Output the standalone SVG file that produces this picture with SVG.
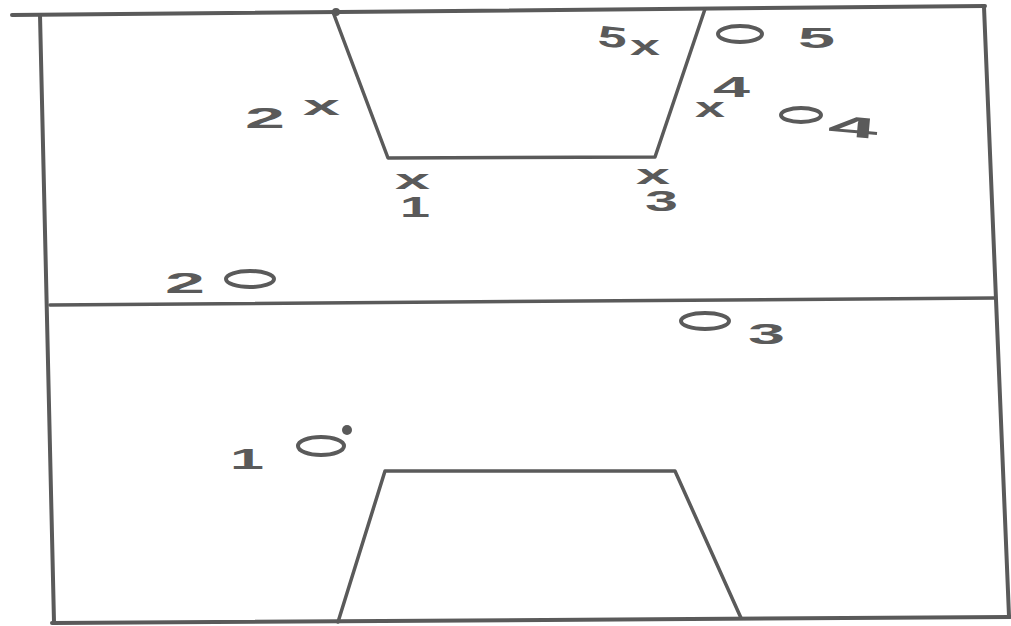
<svg xmlns="http://www.w3.org/2000/svg" width="1011" height="626" viewBox="0 0 1011 626">
<style>
.ln{stroke:#5a5a5a;fill:none;stroke-linecap:round;stroke-linejoin:round}
.b{stroke-width:4}
.k{stroke-width:3.5}
.o{stroke:#5a5a5a;fill:none;stroke-width:4}
.t{font-family:"Liberation Sans",Arial,sans-serif;font-size:29px;font-weight:bold;fill:#5a5a5a}
.x{font-family:"Liberation Sans",Arial,sans-serif;font-size:28px;font-weight:bold;fill:#5a5a5a}
</style>
<rect width="1011" height="626" fill="#ffffff"/>
<g id="court">
<line class="ln b" x1="12" y1="15" x2="985" y2="6"/>
<line class="ln b" x1="40" y1="15" x2="54" y2="622"/>
<line class="ln b" x1="984" y1="7" x2="1009" y2="616"/>
<line class="ln k" x1="50" y1="305" x2="995" y2="298"/>
<line class="ln b" x1="52" y1="623" x2="1010" y2="617"/>
</g>
<g id="key-top">
<polyline class="ln k" points="333,12 388,158 655,157 705,9"/>
<circle cx="336" cy="12" r="4" fill="#5a5a5a"/>
</g>
<g id="key-bottom">
<polyline class="ln k" points="338,622 385,471 675,471 741,618"/>
</g>
<g id="attackers">
<text class="t" x="245" y="128" textLength="40" lengthAdjust="spacingAndGlyphs">2</text>
<text class="x" x="303" y="115" textLength="37" lengthAdjust="spacingAndGlyphs">x</text>
<text class="x" x="395" y="189" textLength="35" lengthAdjust="spacingAndGlyphs">x</text>
<text class="t" x="400" y="217" textLength="30" lengthAdjust="spacingAndGlyphs">1</text>
<text class="t" x="598" y="47" textLength="29" lengthAdjust="spacingAndGlyphs" transform="rotate(6 612 37)">5</text>
<text class="x" x="630" y="55" textLength="30" lengthAdjust="spacingAndGlyphs">x</text>
<text class="t" x="713" y="97" textLength="37" lengthAdjust="spacingAndGlyphs">4</text>
<text class="x" x="695" y="117" textLength="30" lengthAdjust="spacingAndGlyphs">x</text>
<text class="x" x="636" y="184" textLength="34" lengthAdjust="spacingAndGlyphs">x</text>
<text class="t" x="645" y="211" textLength="33" lengthAdjust="spacingAndGlyphs">3</text>
</g>
<g id="defenders">
<ellipse class="o" cx="740" cy="34" rx="22" ry="8"/>
<text class="t" x="798" y="48" textLength="37" lengthAdjust="spacingAndGlyphs">5</text>
<ellipse class="o" cx="801" cy="115" rx="20" ry="7"/>
<text class="t" x="828" y="137" textLength="50" lengthAdjust="spacingAndGlyphs" transform="rotate(5 853 127)">4</text>
<text class="t" x="165" y="293" textLength="40" lengthAdjust="spacingAndGlyphs">2</text>
<ellipse class="o" cx="250" cy="279" rx="24" ry="8"/>
<ellipse class="o" cx="705" cy="321" rx="24" ry="8"/>
<text class="t" x="748" y="344" textLength="37" lengthAdjust="spacingAndGlyphs">3</text>
<text class="t" x="230" y="469" textLength="34" lengthAdjust="spacingAndGlyphs">1</text>
<ellipse class="o" cx="321" cy="446" rx="23" ry="9"/>
<circle cx="347" cy="430" r="5" fill="#5a5a5a"/>
</g>
</svg>
